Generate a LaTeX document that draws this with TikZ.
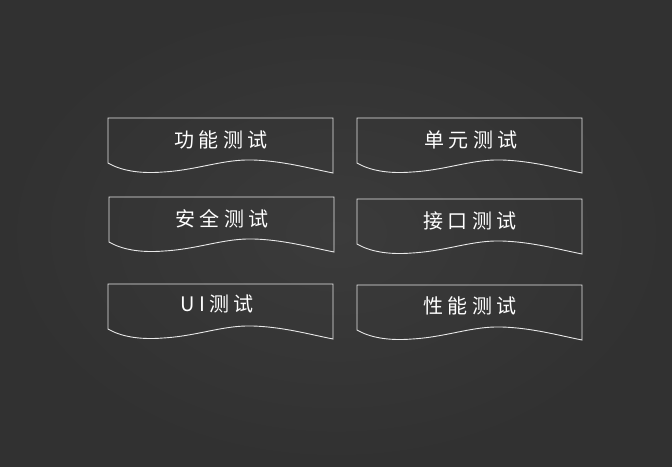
\documentclass[tikz,border=0pt]{standalone}
\usepackage{fontspec}
\newfontfamily\cjk[LetterSpace=22]{Noto Sans CJK SC}
\definecolor{boardin}{HTML}{3B3B3B}
\definecolor{boardout}{HTML}{313131}
\definecolor{chalk}{HTML}{E8E8E8}
\tikzset{
  docshape/.style={draw=chalk, line width=0.9pt},
  doctext/.style={text=white, font=\cjk\fontsize{20}{20}\selectfont, inner sep=0pt}
}
\newcommand{\docbox}[2]{%
  \draw[docshape] (#1,#2) -- ++(225,0) -- ++(0,55)
    .. controls ++(-25,-5) and ++(30,1) .. ++(-80,-13)
    .. controls ++(-30,-1) and ++(35,-2) .. ++(-90,12)
    .. controls ++(-25,2) and ++(12,7) .. ++(-55,-9) -- cycle;
}
\begin{document}
\begin{tikzpicture}[x=1pt,y=-1pt]
\useasboundingbox (0,0) rectangle (672,466);
\shade[inner color=boardin, outer color=boardout] (0,0) rectangle (672,466);
\docbox{108}{118}
\docbox{357}{118}
\docbox{109}{197}
\docbox{357}{199}
\docbox{108}{284}
\docbox{357}{285}
\node[doctext] (t1) at (221,140) {功能测试};
\node[doctext] (t2) at (471,140) {单元测试};
\node[doctext] (t3) at (222,219) {安全测试};
\node[doctext] (t4) at (470,221) {接口测试};
\node[doctext] (t5) at (217,304) {UI测试};
\node[doctext] (t6) at (470,306) {性能测试};
\end{tikzpicture}
\end{document}
